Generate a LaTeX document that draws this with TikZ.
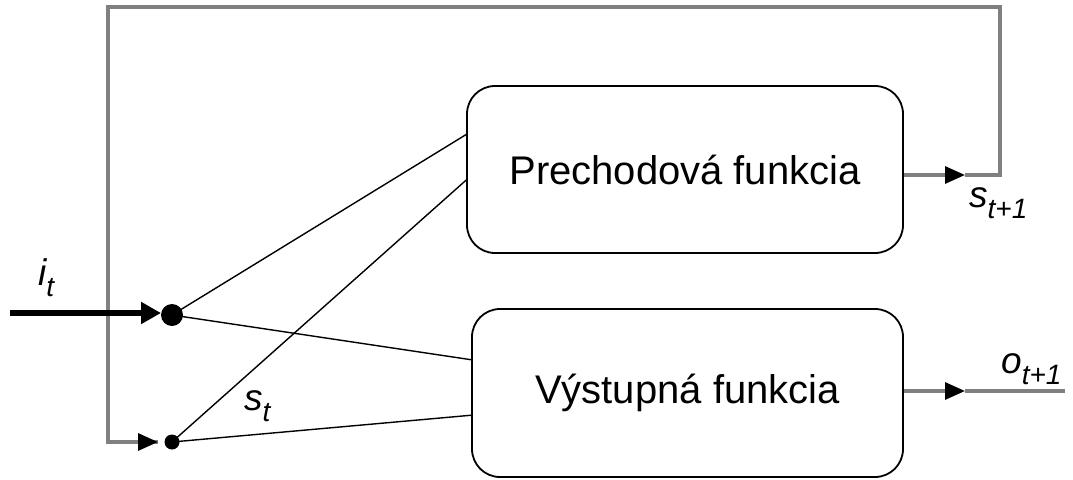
\documentclass[tikz,border=0pt]{standalone}
\usepackage{fontspec}
\setmainfont{Liberation Sans}
\usetikzlibrary{arrows.meta,calc}
\begin{document}
\begin{tikzpicture}[x=1pt,y=-1pt,
  funcbox/.style={draw=black, line width=1.8pt, rounded corners=28pt, fill=white,
    inner sep=0pt, font=\fontsize{40}{40}\selectfont},
  thin/.style={draw=black, line width=1.4pt},
  loop/.style={draw=black!50, line width=3.2pt},
  tip/.style={-{Triangle[length=20pt,width=17pt,color=black]}},
  bigdot/.style={circle, fill=black, inner sep=0pt, minimum size=22pt},
  smalldot/.style={circle, fill=black, inner sep=0pt, minimum size=15pt},
  lbl/.style={inner sep=0pt, anchor=base west, font=\fontsize{37}{37}\selectfont\itshape}
]
\useasboundingbox (0,0) rectangle (1073,479);

% the two function blocks
\node[funcbox, minimum width=436pt, minimum height=167pt] (pf) at (685,169.5) {Prechodová funkcia};
\node[funcbox, minimum width=431pt, minimum height=168pt] (vf) at (687.5,393) {Výstupná funkcia};

% input junction and state junction
\node[bigdot] (in) at (172,315) {};
\node[smalldot] (st) at (172,442) {};

% attachment points on the left edges of the blocks
\coordinate (pfa) at ($(pf.north west)!0.293!(pf.south west)$);
\coordinate (pfb) at ($(pf.north west)!0.563!(pf.south west)$);
\coordinate (vfa) at ($(vf.north west)!0.304!(vf.south west)$);
\coordinate (vfb) at ($(vf.north west)!0.631!(vf.south west)$);

% output and feedback routing points
\coordinate (pfo) at (pf.east |- 0,175);
\coordinate (sarr) at (965,175);
\coordinate (sc1) at (1000,175);
\coordinate (sc2) at (1000,7);
\coordinate (sc3) at (108,7);
\coordinate (sc4) at (108,442);
\coordinate (sarr2) at (158,442);
\coordinate (vfo) at (vf.east |- 0,391);
\coordinate (oarr) at (965,391);
\coordinate (oend) at (1065,391);
\coordinate (istart) at (10,313);
\coordinate (iarr) at (161,313);

% feedback loop of the state
\draw[loop] (sarr) -- (sc1) -- (sc2) -- (sc3) -- (sc4) -- (sarr2);
\draw[loop, tip] (pfo) -- (sarr);
\draw[loop, tip] (sc4) -- (sarr2);

% output
\draw[loop] (oarr) -- (oend);
\draw[loop, tip] (vfo) -- (oarr);

% input
\draw[line width=6pt, -{Triangle[length=20pt,width=21pt]}] (istart) -- (iarr);

% connections into the blocks
\draw[thin] (in.center) -- (pfa);
\draw[thin] (st.center) -- (pfb);
\draw[thin] (in.center) -- (vfa);
\draw[thin] (st.center) -- (vfb);

% labels
\node[lbl] (li) at (38,285) {i\raisebox{-11pt}{\fontsize{28}{28}\selectfont\itshape t}};
\node[lbl] (ls) at (244,410) {s\raisebox{-11pt}{\fontsize{28}{28}\selectfont\itshape t}};
\node[lbl] (ls1) at (969,207) {s\raisebox{-11pt}{\fontsize{28}{28}\selectfont\itshape t+1}};
\node[lbl] (lo1) at (1001,373) {o\raisebox{-11pt}{\fontsize{28}{28}\selectfont\itshape t+1}};
\end{tikzpicture}
\end{document}
